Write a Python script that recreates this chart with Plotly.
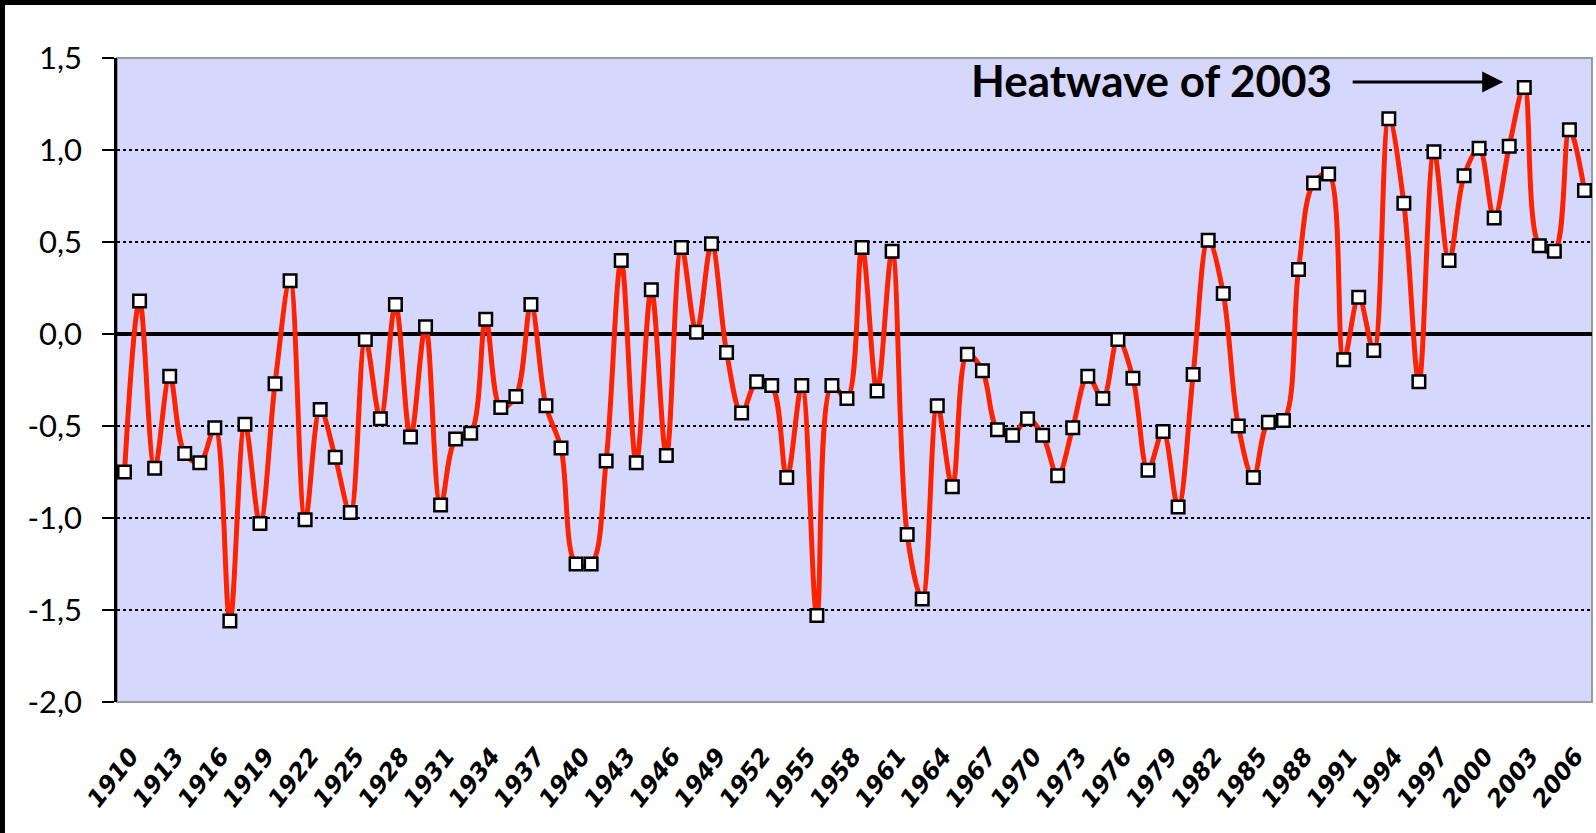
# Import libraries
import plotly.graph_objects as go

# ---- Data ----
years = list(range(1910, 2008))

anomaly = [-0.75, 0.18, -0.73, -0.23, -0.65, -0.70, -0.51, -1.56, -0.49, -1.03,
           -0.27, 0.29, -1.01, -0.41, -0.67, -0.97, -0.03, -0.46, 0.16, -0.56,
           0.04, -0.93, -0.57, -0.54, 0.08, -0.40, -0.34, 0.16, -0.39, -0.62,
           -1.25, -1.25, -0.69, 0.40, -0.70, 0.24, -0.66, 0.47, 0.01, 0.49,
           -0.10, -0.43, -0.26, -0.28, -0.78, -0.28, -1.53, -0.28, -0.35, 0.47,
           -0.31, 0.45, -1.09, -1.44, -0.39, -0.83, -0.11, -0.20, -0.52, -0.55,
           -0.46, -0.55, -0.77, -0.51, -0.23, -0.35, -0.03, -0.24, -0.74, -0.53,
           -0.94, -0.22, 0.51, 0.22, -0.50, -0.78, -0.48, -0.47, 0.35, 0.82,
           0.87, -0.14, 0.20, -0.09, 1.17, 0.71, -0.26, 0.99, 0.40, 0.86,
           1.01, 0.63, 1.02, 1.34, 0.48, 0.45, 1.11, 0.78]

x_ticks = list(range(1910, 2008, 3))
y_ticks = [-2.0, -1.5, -1.0, -0.5, 0.0, 0.5, 1.0, 1.5]
y_labels = ['-2,0', '-1,5', '-1,0', '-0,5', '0,0', '0,5', '1,0', '1,5']

annotation_text = 'Heatwave of 2003'

# ---- Figure size / margins ----
W, H = 1596, 833
ml, mr, mt, mb = 117, 4, 58, 131
pw, ph = W - ml - mr, H - mt - mb

fig = go.Figure()

fig.add_trace(
    go.Scatter(x=years, y=anomaly,
               mode='lines+markers',
               line=dict(color='#FF2200', width=5, shape='spline', smoothing=1),
               marker=dict(symbol='square', size=12.5, color='white',
                           line=dict(color='black', width=2.5)),
               showlegend=False, hoverinfo='x+y'))

# ---- Annotation: text + arrow ----
fig.add_annotation(x=1978.2, y=1.38, xref='x', yref='y',
                   text='<b>' + annotation_text + '</b>', showarrow=False,
                   font=dict(family='Lato', size=44, color='black'))
fig.add_annotation(x=2001.6, y=1.37, ax=1991.5, ay=1.37,
                   xref='x', yref='y', axref='x', ayref='y',
                   text='', showarrow=True, arrowhead=2, arrowsize=1.4,
                   arrowwidth=3, arrowcolor='black', standoff=0)

# ---- Frame: gray plot border + black edges of the picture ----
fig.add_shape(type='rect', xref='paper', yref='paper', x0=0, x1=1, y0=0, y1=1,
              line=dict(color='#9A9A9A', width=2), layer='below')
fig.add_shape(type='rect', xref='paper', yref='paper',
              x0=-ml / pw, x1=(-ml + 5) / pw, y0=-mb / ph, y1=(ph + mt) / ph,
              fillcolor='black', line=dict(width=0))
fig.add_shape(type='rect', xref='paper', yref='paper',
              x0=-ml / pw, x1=(pw + mr) / pw, y0=(ph + mt - 5) / ph, y1=(ph + mt) / ph,
              fillcolor='black', line=dict(width=0))

# ---- Layout ----
fig.update_layout(
    width=W, height=H,
    paper_bgcolor='white',
    plot_bgcolor='#D5D7FC',
    margin=dict(l=ml, r=mr, t=mt, b=mb),

    xaxis=dict(
        range=[1909.5, 2007.5],
        tickmode='array', tickvals=x_ticks,
        tickangle=-52,
        ticks='', showgrid=False, zeroline=False, showline=False,
        ticklabelstandoff=34, ticklabelshift=6,
        tickfont=dict(family='DejaVu Sans', size=24, color='black',
                      weight='bold', style='italic'),
    ),

    yaxis=dict(
        range=[-2.0, 1.5],
        tickmode='array', tickvals=y_ticks, ticktext=y_labels,
        showgrid=True, gridcolor='black', gridwidth=1.5, griddash='dot',
        zeroline=True, zerolinecolor='black', zerolinewidth=3.5,
        showline=True, linecolor='black', linewidth=2.5,
        ticks='outside', ticklen=12, tickwidth=2, tickcolor='black',
        ticklabelstandoff=14,
        tickfont=dict(family='Lato', size=31, color='black'),
    ),
)

# page body has a default 8px margin; remove it so the figure fills the window
fig.write_html('out.html', config={'displayModeBar': False},
               post_script="document.body.style.margin='0';")
